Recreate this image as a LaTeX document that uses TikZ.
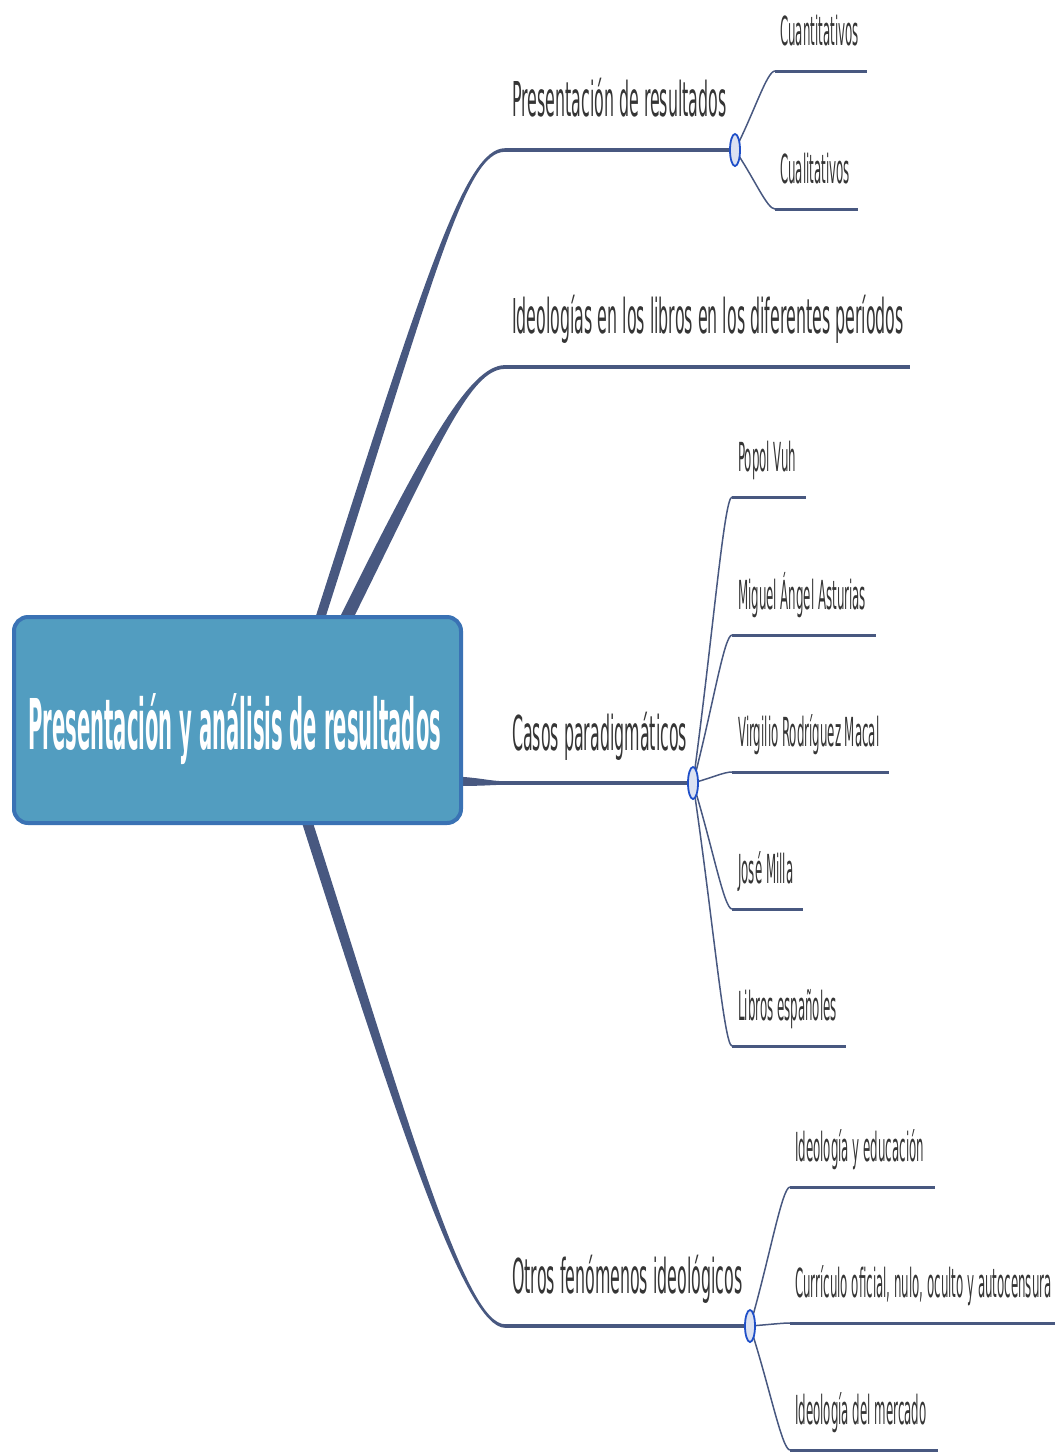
\documentclass[tikz,border=0pt]{standalone}
\usepackage{fontspec}
\setmainfont{DejaVu Sans}
\newfontfamily\fontA[FakeStretch=0.33]{DejaVu Sans}
\newfontfamily\fontB[FakeStretch=0.295]{DejaVu Sans}
\newfontfamily\fontR[FakeStretch=0.28]{DejaVu Sans}
\usetikzlibrary{calc,shapes.geometric}
\definecolor{linkc}{HTML}{485880}
\definecolor{txtc}{HTML}{353535}
\definecolor{rootfill}{HTML}{529DC0}
\definecolor{rootedge}{HTML}{3A72B4}
\definecolor{knobfill}{HTML}{DCE2F2}
\definecolor{knobedge}{HTML}{1F4FC8}
% tapered branch: #1 start, #2 #3 controls, #4 end, #5 half offset at start, #6 half offset at end
\newcommand\taperlink[6]{%
  \fill[linkc] ($(#1)-(#5)$) .. controls ($(#2)-(#5)$) and ($(#3)-(#6)$) .. ($(#4)-(#6)$)
    -- ($(#4)+(#6)$) .. controls ($(#3)+(#6)$) and ($(#2)+(#5)$) .. ($(#1)+(#5)$) -- cycle;}
% thin connector from a knob to the start of a sub-branch
\newcommand\twiglink[2]{%
  \draw[twig] (#1) .. controls ($(#1)!0.5!(#2)$) and ($(#2)+(-8,0)$) .. (#2);}
\begin{document}
\begin{tikzpicture}[x=1pt,y=-1pt,
  lvlone/.style={anchor=base west, inner sep=0pt, text=txtc, font=\fontA\fontsize{48}{56}\selectfont},
  lvltwo/.style={anchor=base west, inner sep=0pt, text=txtc, font=\fontB\fontsize{40}{48}\selectfont},
  rootbox/.style={draw=rootedge, line width=4pt, fill=rootfill, rounded corners=14pt,
    minimum width=447pt, minimum height=206pt, inner sep=0pt},
  rootlabel/.style={anchor=base west, inner sep=0pt, text=white, font=\fontR\bfseries\fontsize{70}{74}\selectfont},
  bar/.style={draw=linkc, line width=3.5pt},
  subbar/.style={draw=linkc, line width=3pt},
  twig/.style={draw=linkc, line width=1.5pt},
  knob/.style={ellipse, draw=knobedge, fill=knobfill, line width=1.8pt,
    minimum width=10pt, minimum height=32pt, inner sep=0pt},
]
\useasboundingbox (0,0) rectangle (1055,1452);

% main branch anchors
\coordinate (rA) at (318,625);
\coordinate (rB) at (343,625);
\coordinate (rC) at (455,781);
\coordinate (rD) at (305,815);
\coordinate (eA) at (505,150);
\coordinate (eB) at (505,367);
\coordinate (eC) at (505,783);
\coordinate (eD) at (505,1326);
\coordinate (fB) at (910,367);
\coordinate (kA) at (735,150);
\coordinate (kC) at (693,783);
\coordinate (kD) at (750,1326);

% sub-branch underlines (start / end)
\coordinate (sA1) at (775,71);   \coordinate (uA1) at (867,71);
\coordinate (sA2) at (775,209);  \coordinate (uA2) at (858,209);
\coordinate (sC1) at (732,497);  \coordinate (uC1) at (806,497);
\coordinate (sC2) at (732,635);  \coordinate (uC2) at (876,635);
\coordinate (sC3) at (732,772);  \coordinate (uC3) at (889,772);
\coordinate (sC4) at (732,909);  \coordinate (uC4) at (803,909);
\coordinate (sC5) at (732,1046); \coordinate (uC5) at (846,1046);
\coordinate (sD1) at (790,1187); \coordinate (uD1) at (935,1187);
\coordinate (sD2) at (790,1323); \coordinate (uD2) at (1055,1323);
\coordinate (sD3) at (790,1450); \coordinate (uD3) at (938,1450);

% main branches
\taperlink{rA}{430,275}{465,150}{eA}{5,0}{0,1.8}
\taperlink{rB}{432,445}{470,367}{eB}{7,0}{0,1.9}
\taperlink{rC}{480,782}{490,783}{eC}{0,4.5}{0,1.8}
\taperlink{rD}{404,1125}{465,1326}{eD}{5.5,0}{0,-1.8}
\draw[bar] (eA) -- (kA);
\draw[bar] (eB) -- (fB);
\draw[bar] (eC) -- (kC);
\draw[bar] (eD) -- (kD);

% sub-branches
\foreach \k/\s in {kA/A1,kA/A2,kC/C1,kC/C2,kC/C3,kC/C4,kC/C5,kD/D1,kD/D2,kD/D3}{
  \twiglink{\k}{s\s}
  \draw[subbar] (s\s) -- (u\s);
}

% knobs
\node[knob] (knobA) at (kA) {};
\node[knob] (knobC) at (kC) {};
\node[knob] (knobD) at (kD) {};

% central topic
\node[rootbox] (root) at (237.5,720) {};
\node[rootlabel] (rootlbl) at (28,749) {Presentación y análisis de resultados};

% main topics
\node[lvlone] (tA) at (512,116) {Presentación de resultados};
\node[lvlone] (tB) at (512,333) {Ideologías en los libros en los diferentes períodos};
\node[lvlone] (tC) at (512,750) {Casos paradigmáticos};
\node[lvlone] (tD) at (512,1293) {Otros fenómenos ideológicos};

% subtopics
\node[lvltwo] (tA1) at (780,45) {Cuantitativos};
\node[lvltwo] (tA2) at (780,183) {Cualitativos};
\node[lvltwo] (tC1) at (738,471) {Popol Vuh};
\node[lvltwo] (tC2) at (738,609) {Miguel Ángel Asturias};
\node[lvltwo] (tC3) at (738,746) {Virgilio Rodríguez Macal};
\node[lvltwo] (tC4) at (738,883) {José Milla};
\node[lvltwo] (tC5) at (738,1020) {Libros españoles};
\node[lvltwo] (tD1) at (795,1161) {Ideología y educación};
\node[lvltwo] (tD2) at (795,1297) {Currículo oficial, nulo, oculto y autocensura};
\node[lvltwo] (tD3) at (795,1424) {Ideología del mercado};
\end{tikzpicture}
\end{document}
